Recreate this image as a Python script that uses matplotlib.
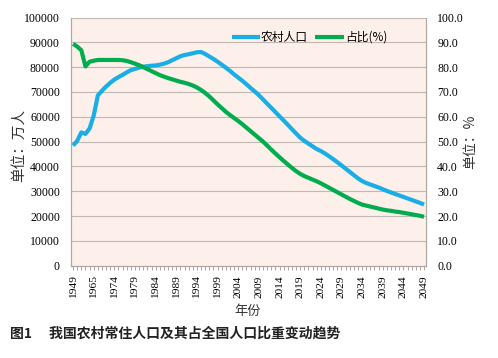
import matplotlib
matplotlib.use("Agg")
import matplotlib.pyplot as plt

plt.rcParams['font.family'] = ['Liberation Serif', 'Noto Sans CJK SC']
CJK = ['Noto Sans CJK SC', 'DejaVu Sans']

years = [1949, 1952, 1957, 1960, 1962, 1965] + list(range(1970, 2050))

rural = [48400, 50300, 53700, 53100, 55300, 60500,
         68600, 70500, 72200, 73700, 75000, 76000, 76900, 77900, 78800, 79300,
         79800, 80200, 80400, 80600, 80700, 81000, 81400, 82000, 82800, 83600,
         84400, 84900, 85200, 85600, 86000, 86100, 85300, 84300, 83300, 82200,
         81000, 79800, 78500, 77100, 75800, 74500, 73100, 71600, 70200, 68700,
         67000, 65300, 63600, 61900, 60200, 58500, 56800, 55000, 53300, 51600,
         50300, 49200, 48100, 47000, 46200, 45200, 44100, 42900, 41700, 40400,
         39100, 37800, 36500, 35200, 34100, 33300, 32700, 32100, 31500, 30800,
         30100, 29500, 28900, 28300, 27700, 27100, 26500, 25900, 25300, 24600]

share = [89.4, 88.3, 86.8, 80.3, 82.2, 82.6,
         82.9, 82.9, 82.9, 82.9, 82.9, 82.9, 82.8, 82.5, 82.0, 81.4,
         80.8, 80.0, 79.2, 78.4, 77.6, 76.8, 76.2, 75.6, 75.1, 74.6,
         74.1, 73.7, 73.2, 72.6, 71.8, 70.8, 69.6, 68.2, 66.6, 65.0,
         63.5, 62.0, 60.7, 59.5, 58.3, 57.0, 55.6, 54.2, 52.8, 51.4,
         50.0, 48.4, 46.8, 45.2, 43.7, 42.2, 40.8, 39.4, 38.1, 37.0,
         36.1, 35.4, 34.7, 34.0, 33.2, 32.3, 31.4, 30.5, 29.6, 28.7,
         27.8, 26.9, 26.1, 25.3, 24.6, 24.2, 23.8, 23.4, 23.0, 22.6,
         22.3, 22.1, 21.8, 21.6, 21.3, 21.0, 20.7, 20.4, 20.1, 19.7]

blue = '#1aaee6'
green = '#00ad4e'
grid_c = '#c2b8b3'
spine_c = '#b0a8a4'

fig = plt.figure(figsize=(4.98, 3.58), dpi=100)
ax = fig.add_axes([0.1426, 0.258, 0.713, 0.693])
ax.set_facecolor('#fdf0eb')
x = list(range(len(years)))

l1, = ax.plot(x, rural, color=blue, lw=3, solid_capstyle='butt', label='农村人口')
ax.set_ylim(0, 100000)
ax.set_xlim(-0.5, len(years) - 0.5)
ax.set_yticks(range(0, 100001, 10000))
ax.yaxis.grid(True, color=grid_c, lw=0.8)
ax.set_axisbelow(True)

ax2 = ax.twinx()
l2, = ax2.plot(x, share, color=green, lw=3, solid_capstyle='butt', label='占比(%)')
ax2.set_ylim(0, 100)
ax2.set_yticks(range(0, 101, 10))
ax2.set_yticklabels([f'{v:.1f}' for v in range(0, 101, 10)])

ax.set_xticks(x)
ax.set_xticklabels([str(y) if i % 5 == 0 else '' for i, y in enumerate(years)],
                   rotation=90, fontsize=8.2)
ax.tick_params(axis='x', length=3, color=spine_c, pad=4)
ax.tick_params(axis='y', length=0, labelsize=8.5, pad=8)
ax2.tick_params(axis='y', length=0, labelsize=8.5, pad=8)

for a in (ax, ax2):
    a.spines['top'].set_visible(False)
    for s in ('left', 'right', 'bottom'):
        a.spines[s].set_color(spine_c)

ax.legend(handles=[l1, l2], loc='upper right', bbox_to_anchor=(0.92, 0.99),
          ncol=2, frameon=False, prop={'family': CJK, 'size': 8.5},
          handlelength=2.4, columnspacing=0.6, handletextpad=0.1)

fig.text(0.04, 0.595, '单位：万人', rotation=90, ha='center', va='center',
         family=CJK, fontsize=10.5, color='#333333')
fig.text(0.945, 0.605, '单位：%', rotation=90, ha='center', va='center',
         family=CJK, fontsize=10, color='#333333')
fig.text(0.498, 0.13, '年份', ha='center', va='center', family=CJK,
         fontsize=9.5, color='#333333')
fig.text(0.02, 0.067, '图1　 我国农村常住人口及其占全国人口比重变动趋势',
         ha='left', va='center', family=CJK, fontsize=10, fontweight='bold',
         color='#222222')

fig.savefig('out.png', dpi=100)
